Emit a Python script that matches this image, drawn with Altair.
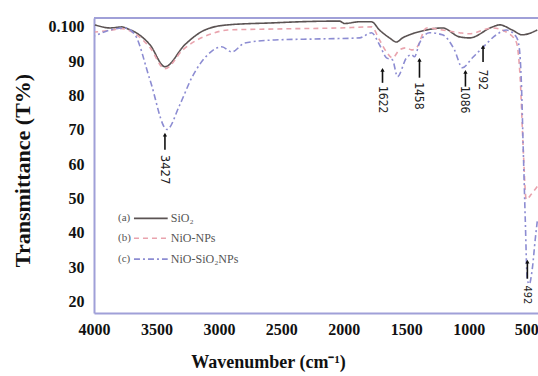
import altair as alt
import pandas as pd

# FTIR spectra: wavenumber (cm-1) and transmittance (%)
wn_sio2 = [3992, 3872, 3776, 3728, 3672, 3552, 3432, 3273, 3113, 2929, 2553, 2353,
           2034, 1994, 1874, 1778, 1714, 1634, 1578, 1530, 1474, 1338, 1210, 1074,
           994, 810, 754, 651, 571, 451]
t_sio2 = [100.6, 99.7, 100.0, 99.4, 98.5, 94.8, 88.4, 94.8, 99.1, 100.6, 101.2, 101.5,
          101.7, 101.0, 101.5, 101.5, 99.1, 96.8, 95.6, 96.8, 97.7, 99.1, 99.7, 97.1,
          96.8, 100.0, 100.6, 99.1, 97.7, 99.1]

wn_nio = [3992, 3872, 3776, 3672, 3552, 3432, 3289, 3033, 2929, 2553, 2034, 1778,
          1714, 1658, 1610, 1554, 1498, 1458, 1418, 1338, 1210, 1074, 994, 810, 699,
          619, 587, 563, 539, 499, 451]
t_nio = [98.5, 99.0, 99.5, 98.0, 94.0, 87.8, 93.3, 98.3, 99.1, 99.4, 99.7, 100.0,
         96.2, 92.7, 91.0, 93.3, 93.9, 93.3, 93.9, 99.7, 99.1, 98.3, 98.0, 99.7, 98.5,
         95.6, 84.6, 64.2, 49.7, 51.2, 53.5]

wn_nio_sio2 = [3992, 3872, 3752, 3672, 3552, 3416, 3313, 3217, 3089, 2977, 2897, 2793,
               2553, 2193, 1874, 1778, 1714, 1658, 1610, 1570, 1498, 1458, 1434, 1394,
               1314, 1210, 1114, 1050, 970, 890, 779, 699, 619, 595, 579, 563, 547,
               531, 515, 491, 467, 451]
t_nio_sio2 = [97.4, 99.1, 99.7, 97.7, 84.6, 70.1, 77.3, 85.2, 91.9, 94.2, 92.7, 95.3,
              96.2, 96.5, 96.8, 98.3, 94.8, 91.0, 90.4, 85.5, 91.0, 91.9, 91.3, 95.3,
              98.3, 97.7, 93.3, 88.1, 91.0, 93.9, 97.7, 99.1, 97.1, 93.9, 84.6, 64.2,
              43.9, 26.5, 25.0, 29.4, 38.1, 43.3]

series_names = ["SiO₂", "NiO-NPs", "NiO-SiO₂NPs"]
series_tags = ["(a)", "(b)", "(c)"]
series_colors = ["#5b5353", "#e9a3ad", "#8c8cd2"]

# Axis ticks
x_ticks = [4000, 3500, 3000, 2500, 2000, 1500, 1000, 500]
y_ticks = [20, 30, 40, 50, 60, 70, 80, 90, 100]

# Peak annotations: label text, arrow position, arrow span and label centre
peak_labels = ["3427", "1622", "1458", "1086", "792", "492"]
peak_pos = [3432, 1690, 1394, 1026, 885, 530]
arrow_top = [68.6, 87.5, 90.4, 86.9, 94.2, 31.6]
arrow_bottom = [64.2, 83.7, 85.2, 82.6, 89.8, 26.6]
label_center = [58.4, 78.8, 79.9, 78.8, 84.6, 21.9]
label_size = [13, 12, 12, 12, 12, 11]

# Legend rows placed in data space
legend_t = [44.2, 38.4, 32.3]

spectra = pd.concat([
    pd.DataFrame({"wn": w, "t": t, "series": n})
    for w, t, n in [(wn_sio2, t_sio2, series_names[0]),
                    (wn_nio, t_nio, series_names[1]),
                    (wn_nio_sio2, t_nio_sio2, series_names[2])]
])

peaks = pd.DataFrame({"label": peak_labels, "wn": peak_pos, "top": arrow_top,
                      "bottom": arrow_bottom, "mid": label_center, "size": label_size})

legend = pd.DataFrame({"tag": series_tags, "name": series_names, "t": legend_t,
                       "x_tag": 3808, "x1": 3680, "x2": 3410, "x_name": 3385})

x_scale = alt.Scale(domain=[4000, 445], nice=False, zero=False)
y_scale = alt.Scale(domain=[16.6, 102.6], nice=False, zero=False)
color_scale = alt.Scale(domain=series_names, range=series_colors)
dash_scale = alt.Scale(domain=series_names, range=[[1, 0], [5, 4], [6, 3, 2, 3]])

frame_color = "#a0a0d8"
serif = "Liberation Serif"
narrow = "DejaVu Sans Condensed, Liberation Sans Narrow, sans-serif"

# One axis definition shared by every layer so the merged axis keeps it
x_axis = alt.Axis(values=x_ticks, format="d", labelOverlap=False, labelFlush=False,
                  labelOffset={"condition": {"test": "datum.value == 500", "value": -5},
                               "value": 0},
                  title="Wavenumber (cm⁻¹)", titleX=174, titleY=49,
                  titleBaseline="middle", titleAlign="center", titleFontSize=18,
                  labelPadding=8, ticks=False, grid=False,
                  domainColor=frame_color, domainWidth=2)
y_axis = alt.Axis(values=y_ticks,
                  labelExpr="datum.value == 100 ? '0.100' : datum.label",
                  labelOverlap=False, labelFlush=False,
                  title="Transmittance (T%)", titleX=-72, titleY=152,
                  titleBaseline="middle", titleAlign="center", titleFontSize=22,
                  labelPadding=10, ticks=False, grid=False,
                  domainColor=frame_color, domainWidth=2)


def X(field):
    return alt.X(field, type="quantitative", scale=x_scale, axis=x_axis)


def Y(field):
    return alt.Y(field, type="quantitative", scale=y_scale, axis=y_axis)


lines = alt.Chart(spectra).mark_line(strokeWidth=1.6, interpolate="monotone").encode(
    x=X("wn"), y=Y("t"),
    color=alt.Color("series:N", scale=color_scale, legend=None),
    strokeDash=alt.StrokeDash("series:N", scale=dash_scale, legend=None),
    order=alt.Order("wn:Q"),
)

top_frame = alt.Chart(pd.DataFrame({"k": [0]})).mark_rule(
    color=frame_color, strokeWidth=2
).encode(y=alt.value(0), x=alt.value(0), x2=alt.value(444))

arrows = alt.Chart(peaks).mark_rule(color="#111", strokeWidth=1.6).encode(
    x=X("wn"), y=Y("bottom"), y2="top:Q")

heads = alt.Chart(peaks).mark_point(shape="triangle-up", filled=True, color="#111",
                                    size=18, opacity=1).encode(x=X("wn"), y=Y("top"))

peak_text = alt.Chart(peaks).mark_text(angle=90, font=narrow, color="#222",
                                       align="center", baseline="middle").encode(
    x=X("wn"), y=Y("mid"), text="label:N",
    size=alt.Size("size:Q", scale=None, legend=None))

leg_tag = alt.Chart(legend).mark_text(font=serif, fontSize=11, color="#555",
                                      align="left", baseline="middle").encode(
    x=X("x_tag"), y=Y("t"), text="tag:N")

leg_line = alt.Chart(legend).mark_rule(strokeWidth=1.6).encode(
    x=X("x1"), x2="x2:Q", y=Y("t"),
    color=alt.Color("name:N", scale=color_scale, legend=None),
    strokeDash=alt.StrokeDash("name:N", scale=dash_scale, legend=None))

leg_name = alt.Chart(legend).mark_text(font=serif, fontSize=12, color="#555",
                                       align="left", baseline="middle").encode(
    x=X("x_name"), y=Y("t"), text="name:N")

chart = alt.layer(lines, top_frame, arrows, heads, peak_text, leg_line, leg_tag,
                  leg_name).properties(
    width=444, height=295,
    autosize=alt.AutoSizeParams(type="none"),
    padding={"left": 94, "top": 18, "right": 0, "bottom": 63},
    background="white",
).configure_view(stroke=None).configure_axis(
    labelFont=serif, labelFontSize=16, labelFontWeight="bold", labelColor="#111",
    titleFont=serif, titleFontWeight="bold", titleColor="#111",
)

chart.save("out.html", embed_options={"renderer": "svg", "actions": False})
